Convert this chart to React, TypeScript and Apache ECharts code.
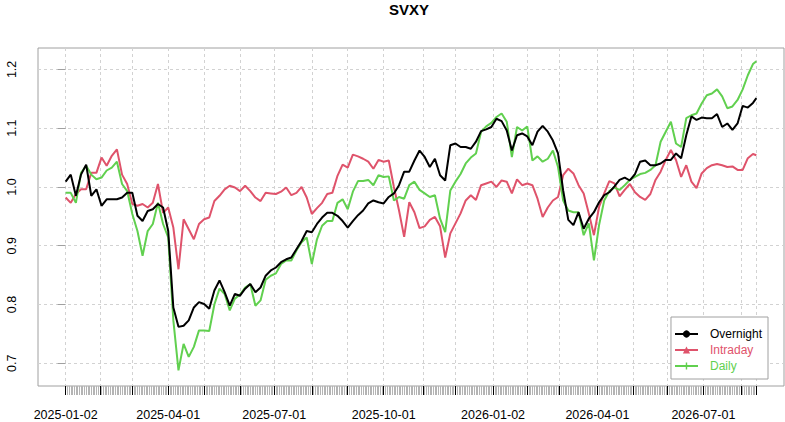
import React, { useEffect, useRef } from "react";
import * as echarts from "echarts";

// ---------- calendar (x categories) ----------
const START_DATE = "2025-01-02";
const END_DATE = "2026-08-14";
const HOLIDAYS = [
  "2025-01-01", "2025-01-09", "2025-01-20", "2025-02-17", "2025-04-18", "2025-05-26",
  "2025-06-19", "2025-07-04", "2025-09-01", "2025-11-27", "2025-12-25", "2026-01-01",
  "2026-01-19", "2026-02-16", "2026-04-03", "2026-05-25", "2026-06-19", "2026-07-03",
];
const LABEL_MONTHS = [1, 4, 7, 10];

// ---------- y axis ----------
const Y_TICKS = [0.7, 0.8, 0.9, 1.0, 1.1, 1.2];
const Y_MIN = 0.6614;
const Y_MAX = 1.2364;

// ---------- series values (sampled every 3rd trading day, last = final day) ----------
const OVERNIGHT = [
  1.009, 1.021, 0.985, 1.021, 1.038, 0.985, 0.996, 0.968, 0.979, 0.979,
  0.979, 0.982, 0.990, 0.990, 0.951, 0.942, 0.959, 0.962, 0.971, 0.965,
  0.925, 0.795, 0.762, 0.764, 0.773, 0.795, 0.804, 0.801, 0.793, 0.824,
  0.841, 0.821, 0.798, 0.818, 0.815, 0.827, 0.835, 0.821, 0.829, 0.849,
  0.858, 0.863, 0.872, 0.877, 0.880, 0.894, 0.908, 0.925, 0.923, 0.937,
  0.948, 0.956, 0.956, 0.951, 0.942, 0.931, 0.942, 0.952, 0.960, 0.972,
  0.977, 0.974, 0.972, 0.983, 0.989, 1.003, 1.026, 1.026, 1.045, 1.062,
  1.051, 1.034, 1.048, 1.020, 1.011, 1.071, 1.074, 1.068, 1.068, 1.065,
  1.077, 1.095, 1.098, 1.102, 1.116, 1.112, 1.096, 1.062, 1.088, 1.091,
  1.086, 1.071, 1.094, 1.104, 1.094, 1.079, 1.057, 0.994, 0.944, 0.935,
  0.957, 0.929, 0.946, 0.957, 0.974, 0.986, 0.991, 1.001, 1.012, 1.016,
  1.011, 1.022, 1.043, 1.045, 1.037, 1.037, 1.040, 1.046, 1.046, 1.057,
  1.049, 1.088, 1.120, 1.114, 1.118, 1.117, 1.117, 1.124, 1.102, 1.108,
  1.097, 1.108, 1.138, 1.135, 1.143, 1.151,
];
const INTRADAY = [
  0.982, 0.973, 0.988, 0.996, 0.996, 1.024, 1.024, 1.050, 1.036, 1.053,
  1.064, 1.021, 1.005, 0.971, 0.968, 0.971, 0.965, 0.973, 1.005, 0.956,
  0.965, 0.931, 0.860, 0.945, 0.928, 0.911, 0.937, 0.945, 0.948, 0.976,
  0.985, 0.996, 1.002, 0.999, 0.993, 1.002, 0.993, 0.982, 0.976, 0.990,
  0.989, 0.988, 0.992, 0.999, 0.986, 0.990, 1.000, 0.982, 0.954, 0.964,
  0.973, 0.988, 0.990, 1.019, 1.038, 1.033, 1.055, 1.052, 1.048, 1.043,
  1.031, 1.046, 1.043, 1.045, 1.000, 0.960, 0.915, 0.974, 0.957, 0.930,
  0.933, 0.944, 0.949, 0.933, 0.880, 0.921, 0.938, 0.955, 0.977, 0.986,
  0.978, 1.003, 1.006, 1.009, 1.000, 1.011, 1.009, 0.989, 1.013, 1.003,
  1.006, 1.003, 0.980, 0.949, 0.965, 0.977, 0.983, 1.020, 1.031, 1.023,
  1.003, 0.989, 0.955, 0.918, 0.966, 0.989, 1.010, 1.006, 0.984, 0.995,
  1.005, 0.991, 0.983, 0.978, 0.988, 1.012, 1.026, 1.046, 1.063, 1.046,
  1.017, 1.037, 1.009, 0.998, 1.023, 1.032, 1.037, 1.039, 1.037, 1.034,
  1.035, 1.029, 1.029, 1.049, 1.056, 1.054,
];
const DAILY = [
  0.990, 0.990, 0.973, 1.024, 1.036, 1.021, 1.013, 1.016, 1.028, 1.033,
  1.043, 1.005, 0.993, 0.954, 0.925, 0.883, 0.925, 0.937, 0.973, 0.937,
  0.914, 0.773, 0.688, 0.733, 0.711, 0.728, 0.756, 0.756, 0.755, 0.800,
  0.827, 0.818, 0.790, 0.810, 0.817, 0.829, 0.835, 0.798, 0.807, 0.842,
  0.849, 0.853, 0.869, 0.875, 0.875, 0.892, 0.906, 0.914, 0.869, 0.911,
  0.934, 0.942, 0.942, 0.973, 0.979, 0.962, 0.992, 1.010, 1.010, 1.012,
  1.003, 1.020, 1.017, 1.018, 0.977, 0.983, 0.980, 1.003, 1.009, 0.995,
  0.989, 0.983, 0.986, 0.946, 0.923, 0.994, 1.009, 1.022, 1.040, 1.050,
  1.057, 1.094, 1.103, 1.109, 1.119, 1.125, 1.111, 1.051, 1.102, 1.096,
  1.103, 1.045, 1.052, 1.043, 1.048, 1.062, 1.034, 0.977, 0.960, 0.957,
  0.957, 0.918, 0.938, 0.875, 0.935, 0.977, 0.993, 0.999, 0.995, 1.003,
  1.012, 1.017, 1.022, 1.024, 1.029, 1.037, 1.077, 1.094, 1.111, 1.074,
  1.068, 1.117, 1.122, 1.125, 1.142, 1.156, 1.159, 1.166, 1.154, 1.134,
  1.137, 1.148, 1.166, 1.190, 1.209, 1.214,
];
const SAMPLE_STEP = 3;

const BLACK = "#000000";
const RED = "#DF536B";
const GREEN = "#61D04F";
const FONT = "'Liberation Sans', Arial, Helvetica, sans-serif";
const PLUS = "path://M4,0L6,0L6,4L10,4L10,6L6,6L6,10L4,10L4,6L0,6L0,4L4,4Z";

function buildDates(): string[] {
  const hol = new Set(HOLIDAYS);
  const out: string[] = [];
  const d = new Date(START_DATE + "T00:00:00Z");
  const end = new Date(END_DATE + "T00:00:00Z");
  while (d.getTime() <= end.getTime()) {
    const wd = d.getUTCDay();
    const s = d.toISOString().slice(0, 10);
    if (wd !== 0 && wd !== 6 && !hol.has(s)) out.push(s);
    d.setUTCDate(d.getUTCDate() + 1);
  }
  return out;
}

export default function App() {
  const ref = useRef<HTMLDivElement>(null);
  useEffect(() => {
    const dates = buildDates();
    const n = dates.length;
    const major = new Set<number>();
    const labeled = new Set<number>();
    dates.forEach((s, i) => {
      const m = Number(s.slice(5, 7));
      const isStart = i === 0 || s.slice(0, 7) !== dates[i - 1].slice(0, 7);
      if (isStart) {
        major.add(i);
        if (LABEL_MONTHS.includes(m)) labeled.add(i);
      }
    });
    major.add(n - 1);

    const gridLeft = 38;
    const gridRight = 1;
    const plotW = 785 - gridLeft - gridRight;
    const pad = 0.04 * (n - 1);
    const pxPerIdx = plotW / (n - 1 + 2 * pad);
    const g1Left = gridLeft + pad * pxPerIdx;
    const g1Right = gridRight + pad * pxPerIdx;

    const mk = (vals: number[]) =>
      vals.map((v, k) => [Math.min(k * SAMPLE_STEP, n - 1), v]);

    const dash = { color: "#d2d2d2", type: [3, 3], width: 1 };

    const option: any = {
      animation: false,
      backgroundColor: "#ffffff",
      textStyle: { fontFamily: FONT },
      title: {
        text: "SVXY",
        left: 389,
        top: 2,
        padding: 0,
        textStyle: { fontSize: 15, fontWeight: "bold", color: "#000", fontFamily: FONT },
      },
      grid: [
        {
          left: gridLeft, right: gridRight, top: 48, bottom: 36,
          show: true, borderColor: "#a0a0a0", borderWidth: 1,
          backgroundColor: "transparent",
        },
        { left: g1Left, right: g1Right, top: 48, bottom: 36 },
      ],
      xAxis: [
        { type: "value", gridIndex: 0, min: -pad, max: n - 1 + pad, show: false },
        {
          type: "category", gridIndex: 1, data: dates, boundaryGap: false, position: "bottom",
          axisLine: { show: false },
          axisTick: { show: true, interval: 0, length: 9, lineStyle: { color: "#b4b4b4", width: 1 } },
          axisLabel: { show: false },
          splitLine: { show: false },
        },
        {
          type: "category", gridIndex: 1, data: dates, boundaryGap: false, position: "bottom",
          axisLine: { show: false },
          axisTick: {
            show: true, length: 9,
            interval: (i: number) => major.has(i),
            lineStyle: { color: "#000", width: 1 },
          },
          axisLabel: {
            show: true, margin: 22, fontSize: 12.5, color: "#000", fontFamily: FONT,
            interval: (i: number) => labeled.has(i),
          },
          splitLine: { show: true, interval: (i: number) => major.has(i), lineStyle: dash },
        },
      ],
      yAxis: [
        {
          type: "value", gridIndex: 0, min: Y_MIN, max: Y_MAX,
          axisLine: { show: false },
          axisTick: { show: true, length: 8, customValues: Y_TICKS, lineStyle: { color: "#a0a0a0" } },
          axisLabel: {
            customValues: Y_TICKS, rotate: 90, margin: 20, fontSize: 12.5, color: "#000",
            fontFamily: FONT, formatter: (v: number) => v.toFixed(1),
          },
          splitLine: { show: true, lineStyle: dash },
        },
        { type: "value", gridIndex: 1, min: 0, max: 1, show: false },
      ],
      legend: {
        orient: "vertical",
        right: 17,
        bottom: 43,
        selectedMode: false,
        itemWidth: 23,
        itemHeight: 9,
        itemGap: 4,
        padding: [11, 6, 7, 3],
        borderColor: "#a0a0a0",
        borderWidth: 1,
        borderRadius: 0,
        backgroundColor: "#ffffff",
        textStyle: { fontSize: 12, lineHeight: 12, fontFamily: FONT, padding: [0, 0, 0, 7] },
        data: [
          { name: "Overnight", textStyle: { color: BLACK } },
          { name: "Intraday", textStyle: { color: RED } },
          { name: "Daily", textStyle: { color: GREEN } },
        ],
      },
      series: [
        {
          name: "Intraday", type: "line", xAxisIndex: 0, yAxisIndex: 0,
          data: mk(INTRADAY), showSymbol: false, symbol: "triangle",
          lineStyle: { color: RED, width: 2 }, itemStyle: { color: RED }, z: 2, silent: true,
        },
        {
          name: "Daily", type: "line", xAxisIndex: 0, yAxisIndex: 0,
          data: mk(DAILY), showSymbol: false, symbol: PLUS,
          lineStyle: { color: GREEN, width: 2 }, itemStyle: { color: GREEN }, z: 3, silent: true,
        },
        {
          name: "Overnight", type: "line", xAxisIndex: 0, yAxisIndex: 0,
          data: mk(OVERNIGHT), showSymbol: false, symbol: "circle",
          lineStyle: { color: BLACK, width: 2 }, itemStyle: { color: BLACK }, z: 4, silent: true,
        },
      ],
    };

    const chart = echarts.init(ref.current!, null, { renderer: "svg" });
    chart.setOption(option);
    return () => chart.dispose();
  }, []);

  return (
    <div
      ref={ref}
      style={{ position: "fixed", left: 0, top: 0, width: 785, height: 422, background: "#fff" }}
    />
  );
}
